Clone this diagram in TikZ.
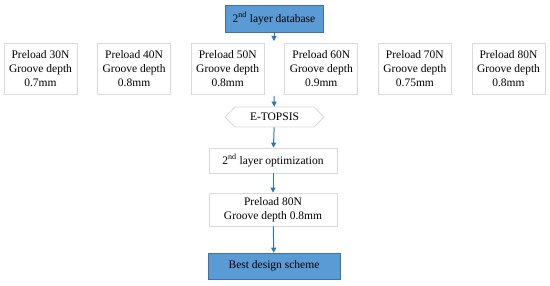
\documentclass[tikz,border=0pt]{standalone}
\usepackage{fontspec}
\setmainfont{Liberation Serif}
\newfontfamily\timesfont{Liberation Serif}
\usepackage{xcolor}
\usepackage{tikz}
\usetikzlibrary{positioning,shapes,shapes.symbols,arrows.meta}
\definecolor{boxblue}{HTML}{5B9BD5}
\definecolor{edgeblue}{HTML}{41719C}
\definecolor{arrowblue}{HTML}{2E75B6}
\tikzset{
    bluebox/.style={rectangle, draw=edgeblue, fill=boxblue, line width=0.6pt, inner sep=0pt, align=center, font=\timesfont\fontsize{11.5}{14}\selectfont},
    whitebox/.style={rectangle, draw=black!15, fill=white, line width=0.8pt, inner sep=0pt, align=center, font=\timesfont\fontsize{11.5}{14}\selectfont},
    flow/.style={-{Triangle[length=5pt, width=5pt]}, color=arrowblue, line width=1pt}
}

\begin{document}
\begin{tikzpicture}[x=1pt, y=-1pt]
    \useasboundingbox (0,0) rectangle (550,286);

    % Blocks
    \node[bluebox, minimum width=98pt, minimum height=27pt] (db) at (274,18.5) {2\textsuperscript{nd} layer database};
    \node[whitebox, minimum width=73pt, minimum height=51pt] (p1) at (40.5,69) {Preload 30N\\Groove depth\\0.7mm};
    \node[whitebox, minimum width=73pt, minimum height=51pt] (p2) at (134.1,69) {Preload 40N\\Groove depth\\0.8mm};
    \node[whitebox, minimum width=73pt, minimum height=51pt] (p3) at (227.7,69) {Preload 50N\\Groove depth\\0.8mm};
    \node[whitebox, minimum width=73pt, minimum height=51pt] (p4) at (321.3,69) {Preload 60N\\Groove depth\\0.9mm};
    \node[whitebox, minimum width=73pt, minimum height=51pt] (p5) at (414.9,69) {Preload 70N\\Groove depth\\0.75mm};
    \node[whitebox, minimum width=73pt, minimum height=51pt] (p6) at (508.5,69) {Preload 80N\\Groove depth\\0.8mm};
    \node[whitebox, signal, signal to=west and east, signal pointer angle=90, minimum width=99pt, minimum height=20pt] (topsis) at (274.5,117) {E-TOPSIS};
    \node[whitebox, minimum width=128pt, minimum height=25pt] (opt) at (273,160.5) {2\textsuperscript{nd} layer optimization};
    \node[whitebox, minimum width=128pt, minimum height=33pt] (res) at (273,209.5) {Preload 80N\\Groove depth 0.8mm};
    \node[bluebox, minimum width=132pt, minimum height=26pt] (best) at (274,266) {Best design scheme};

    \coordinate (dbend) at (274,41);
    \coordinate (rowout) at (274,96);

    % Arrows
    \draw[flow] (db) -- (dbend);
    \draw[flow] (rowout) -- (topsis);
    \draw[flow] (topsis) -- (opt);
    \draw[flow] (opt) -- (res);
    \draw[flow] (res) -- (best);

\end{tikzpicture}
\end{document}
